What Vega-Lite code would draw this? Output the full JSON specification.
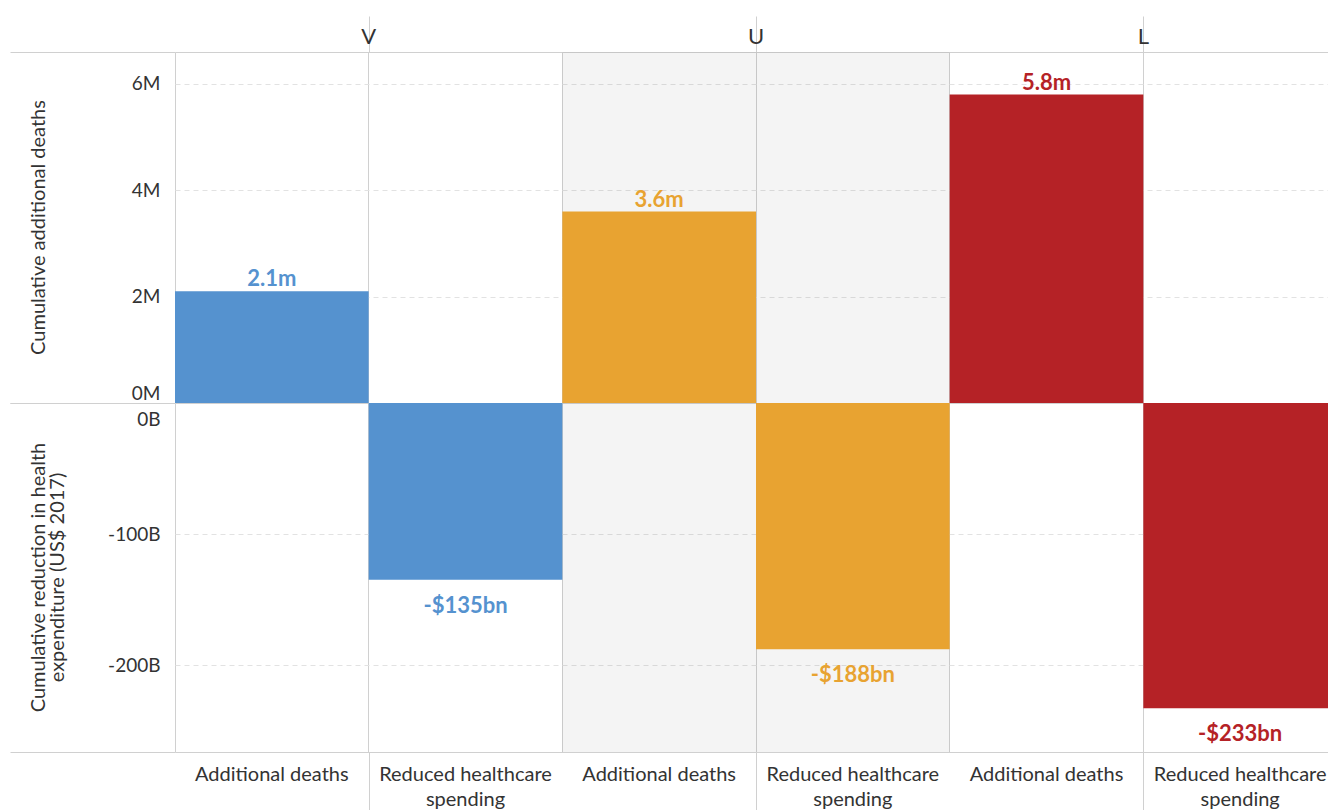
{
  "$schema": "https://vega.github.io/schema/vega-lite/v6.json",
  "padding": {"left": 9, "top": 16, "right": 0, "bottom": 0},
  "background": "white",
  "spacing": 0,
  "bounds": "flush",
  "config": {"view": {"stroke": null}, "font": "Lato", "concat": {"spacing": 0}},
  "data": {"values": [
    {"group": "V", "measure": "Additional deaths", "value": 2100000},
    {"group": "V", "measure": "Reduced healthcare spending", "value": -135},
    {"group": "U", "measure": "Additional deaths", "value": 3600000},
    {"group": "U", "measure": "Reduced healthcare spending", "value": -188},
    {"group": "L", "measure": "Additional deaths", "value": 5800000},
    {"group": "L", "measure": "Reduced healthcare spending", "value": -233}
  ]},
  "vconcat": [
    {
      "width": 1153, "height": 36,
      "transform": [{"filter": "datum.measure === 'Additional deaths'"}],
      "mark": {"type": "text", "fontSize": 22, "color": "#333", "baseline": "middle", "dy": 3},
      "encoding": {
        "x": {"field": "group", "type": "nominal", "sort": ["V", "U", "L"],
          "scale": {"range": [0, 1162], "paddingInner": 0, "paddingOuter": 0},
          "axis": {"labels": false, "ticks": false, "domain": false, "title": null, "grid": true, "bandPosition": 0, "gridColor": "#d0d0d0"}},
        "text": {"field": "group"}
      }
    },
    {
      "width": 1153, "height": 351,
      "transform": [
        {"calculate": "datum.group + '|' + datum.measure", "as": "key"},
        {"calculate": "format(datum.value / 1000000, '.1f') + 'm'", "as": "label"}
      ],
      "layer": [
        {
          "transform": [{"filter": "datum.group === 'U'"}],
          "mark": {"type": "bar", "fill": "#000", "opacity": 0.045, "clip": true},
          "encoding": {
            "x": {"field": "key", "type": "nominal",
              "scale": {"domain": ["V|Additional deaths", "V|Reduced healthcare spending", "U|Additional deaths", "U|Reduced healthcare spending", "L|Additional deaths", "L|Reduced healthcare spending"], "range": [0, 1162], "paddingInner": 0, "paddingOuter": 0},
              "axis": {"labels": false, "ticks": false, "domain": false, "title": null, "grid": true, "bandPosition": 0, "gridColor": "#d0d0d0"}}
          }
        },
        {
          "transform": [{"filter": "datum.measure === 'Additional deaths'"}],
          "mark": {"type": "bar", "clip": true},
          "encoding": {
            "x": {"field": "key", "type": "nominal"},
            "y": {"field": "value", "type": "quantitative", "scale": {"domain": [0, 6600000], "nice": false},
              "axis": {"orient": "left", "values": [0, 2000000, 4000000, 6000000], "labelExpr": "(datum.value / 1000000) + 'M'",
                "ticks": false, "tickSize": 0, "domain": false, "grid": true, "gridDash": [5, 4], "gridColor": "#e2e2e2",
                "labelPadding": 15, "labelFontSize": 19, "labelColor": "#333", "labelFlush": true, "labelFlushOffset": 0,
                "title": "Cumulative additional deaths", "titleFontSize": 20, "titleFontWeight": "normal", "titleColor": "#333",
                "titleX": -137, "titleY": 175, "titleAngle": -90, "titleBaseline": "middle", "titleAlign": "center"}},
            "color": {"field": "group", "type": "nominal", "scale": {"domain": ["V", "U", "L"], "range": ["#5592cf", "#e8a331", "#b52226"]}, "legend": null}
          }
        },
        {
          "transform": [{"filter": "datum.measure === 'Additional deaths'"}],
          "mark": {"type": "text", "fontWeight": "bold", "fontSize": 22, "baseline": "alphabetic", "dy": -5},
          "encoding": {
            "x": {"field": "key", "type": "nominal"},
            "y": {"field": "value", "type": "quantitative",
              "axis": {"orient": "left", "values": [0, 6600000], "labels": false, "ticks": true, "tickSize": 165, "tickColor": "#d0d0d0", "domain": false, "grid": true, "gridColor": "#d0d0d0", "gridDash": [], "title": null}},
            "text": {"field": "label"},
            "color": {"field": "group", "type": "nominal", "legend": null}
          }
        }
      ],
      "resolve": {"axis": {"y": "independent"}}
    },
    {
      "width": 1153, "height": 349,
      "transform": [
        {"calculate": "datum.group + '|' + datum.measure", "as": "key"},
        {"calculate": "'-$' + format(-datum.value, 'd') + 'bn'", "as": "label"}
      ],
      "layer": [
        {
          "transform": [{"filter": "datum.group === 'U'"}],
          "mark": {"type": "bar", "fill": "#000", "opacity": 0.045, "clip": true},
          "encoding": {
            "x": {"field": "key", "type": "nominal",
              "scale": {"domain": ["V|Additional deaths", "V|Reduced healthcare spending", "U|Additional deaths", "U|Reduced healthcare spending", "L|Additional deaths", "L|Reduced healthcare spending"], "range": [0, 1162], "paddingInner": 0, "paddingOuter": 0},
              "axis": {"labels": false, "ticks": false, "domain": false, "title": null, "grid": true, "bandPosition": 0, "gridColor": "#d0d0d0"}}
          }
        },
        {
          "transform": [{"filter": "datum.measure === 'Reduced healthcare spending'"}],
          "mark": {"type": "bar", "clip": true},
          "encoding": {
            "x": {"field": "key", "type": "nominal"},
            "y": {"field": "value", "type": "quantitative", "scale": {"domain": [-266.4, 0], "nice": false},
              "axis": {"orient": "left", "values": [0, -100, -200], "labelExpr": "datum.value + 'B'",
                "ticks": false, "tickSize": 0, "domain": false, "grid": true, "gridDash": [5, 4], "gridColor": "#e2e2e2",
                "labelPadding": 15, "labelFontSize": 19, "labelColor": "#333", "labelFlush": true, "labelFlushOffset": 0,
                "labelOffset": {"condition": {"test": "datum.value === 0", "value": 7}, "value": 0},
                "title": ["Cumulative reduction in health", "expenditure (US$ 2017)"], "titleFontSize": 20, "titleFontWeight": "normal", "titleColor": "#333", "titleLineHeight": 19,
                "titleX": -137, "titleY": 174, "titleAngle": -90, "titleBaseline": "middle", "titleAlign": "center"}},
            "color": {"field": "group", "type": "nominal", "scale": {"domain": ["V", "U", "L"], "range": ["#5592cf", "#e8a331", "#b52226"]}, "legend": null}
          }
        },
        {
          "transform": [{"filter": "datum.measure === 'Reduced healthcare spending'"}],
          "mark": {"type": "text", "fontWeight": "bold", "fontSize": 22, "baseline": "alphabetic", "dy": 33},
          "encoding": {
            "x": {"field": "key", "type": "nominal"},
            "y": {"field": "value", "type": "quantitative",
              "axis": {"orient": "left", "values": [0, -266.4], "labels": false, "ticks": true, "tickSize": 165, "tickColor": "#d0d0d0", "domain": false, "grid": true, "gridColor": "#d0d0d0", "gridDash": [], "title": null}},
            "text": {"field": "label"},
            "color": {"field": "group", "type": "nominal", "legend": null}
          }
        }
      ],
      "resolve": {"axis": {"y": "independent"}}
    },
    {
      "width": 1153, "height": 58,
      "transform": [
        {"calculate": "datum.group + '|' + datum.measure", "as": "key"},
        {"calculate": "replace(datum.measure, 'healthcare ', 'healthcare\\n')", "as": "disp"}
      ],
      "layer": [
        {
          "mark": {"type": "text", "fontSize": 20, "color": "#333", "baseline": "alphabetic", "lineBreak": "\n", "lineHeight": 25, "dy": 0},
          "encoding": {
            "x": {"field": "key", "type": "nominal",
              "scale": {"domain": ["V|Additional deaths", "V|Reduced healthcare spending", "U|Additional deaths", "U|Reduced healthcare spending", "L|Additional deaths", "L|Reduced healthcare spending"], "range": [0, 1162], "paddingInner": 0, "paddingOuter": 0},
              "axis": null},
            "text": {"field": "disp"}
          }
        },
        {
          "transform": [{"filter": "datum.measure === 'Additional deaths'"}],
          "mark": {"type": "text", "opacity": 0},
          "encoding": {
            "x": {"field": "group", "type": "nominal", "sort": ["V", "U", "L"],
              "scale": {"range": [0, 1162], "paddingInner": 0, "paddingOuter": 0},
              "axis": {"labels": false, "ticks": false, "domain": false, "title": null, "grid": true, "bandPosition": 0, "gridColor": "#d0d0d0"}},
            "text": {"field": "group"}
          }
        }
      ],
      "resolve": {"scale": {"x": "independent"}, "axis": {"x": "independent"}}
    }
  ]
}
